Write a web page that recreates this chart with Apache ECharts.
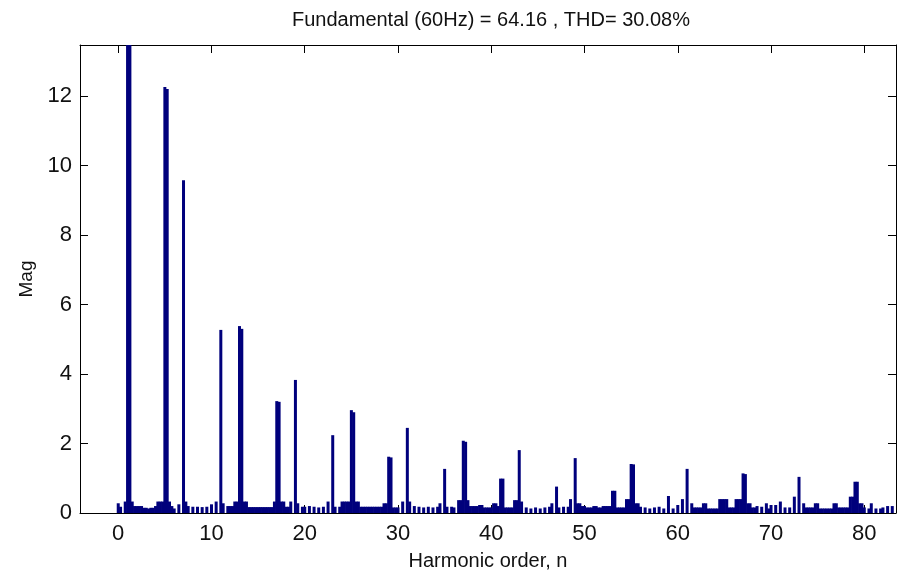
<!DOCTYPE html>
<html>
<head>
<meta charset="utf-8">
<title>FFT analysis</title>
<script src="https://cdn.jsdelivr.net/npm/echarts@6/dist/echarts.min.js"></script>
<style>
  html, body { margin: 0; padding: 0; background: #fff; }
  #chart { width: 897px; height: 579px; }
</style>
</head>
<body>
<div id="chart"></div>
<script>
  // FFT bins every 0.25 harmonic; one row = [n, n+.25, n+.5, n+.75]
  var binStep = 0.25;
  var mag = [
    0.28, 0.18, 0, 0.33,          // 0
    64.16, 20.0, 0.33, 0.20,      // 1
    0.20, 0.20, 0.20, 0.15,
    0.15, 0.13, 0.15, 0.15,
    0.20, 0.33, 0.33, 0.33,
    12.26, 12.2, 0.33, 0.20,      // 5
    0.13, 0, 0.25, 0,
    9.58, 0.33, 0.20, 0,          // 7
    0.18, 0, 0.18, 0,
    0.17, 0, 0.18, 0,
    0.25, 0, 0.33, 0,             // 10
    5.27, 0.28, 0, 0.20,          // 11
    0.20, 0.20, 0.33, 0.33,
    5.38, 5.30, 0.33, 0.33,       // 13
    0.17, 0.17, 0.17, 0.17,
    0.17, 0.17, 0.17, 0.17,       // 15
    0.17, 0.17, 0.17, 0.33,
    3.22, 3.20, 0.33, 0.33,       // 17
    0.18, 0.18, 0.33, 0,
    3.83, 0.28, 0, 0.18,          // 19
    0.18, 0, 0.20, 0,             // 20
    0.18, 0, 0.16, 0,
    0.18, 0, 0.33, 0,
    2.24, 0.18, 0, 0.18,          // 23
    0.33, 0.33, 0.33, 0.33,
    2.96, 2.90, 0.33, 0.33,       // 25
    0.18, 0.18, 0.18, 0.18,
    0.18, 0.18, 0.18, 0.18,
    0.18, 0.18, 0.28, 0.28,
    1.62, 1.60, 0.16, 0.16,       // 29
    0.16, 0, 0.33, 0,             // 30
    2.45, 0.33, 0, 0.20,          // 31
    0, 0.18, 0, 0.16,
    0, 0.18, 0, 0.16,
    0, 0.18, 0.28, 0,
    1.27, 0.18, 0, 0.18,          // 35
    0.16, 0, 0.37, 0.37,
    2.08, 2.05, 0.37, 0.20,       // 37
    0.20, 0.20, 0.20, 0.23,
    0.23, 0.16, 0.16, 0.16,
    0.16, 0.28, 0.28, 0.20,       // 40
    0.99, 0.99, 0.16, 0.16,       // 41
    0.16, 0.16, 0.37, 0.37,
    1.81, 0.33, 0, 0.16,          // 43
    0, 0.13, 0, 0.16,
    0, 0.13, 0, 0.16,             // 45
    0, 0.18, 0.28, 0,
    0.76, 0.16, 0, 0.18,          // 47
    0, 0.18, 0.40, 0,
    1.58, 0.28, 0.28, 0.20,       // 49
    0.20, 0.16, 0.16, 0.16,       // 50
    0.20, 0.20, 0.16, 0.16,
    0.20, 0.20, 0.20, 0.20,
    0.64, 0.64, 0.16, 0.16,       // 53
    0.16, 0.16, 0.40, 0.40,
    1.41, 1.40, 0.28, 0.28,       // 55
    0.18, 0, 0.16, 0,
    0.13, 0, 0.16, 0,
    0.18, 0, 0.13, 0,
    0.49, 0, 0.13, 0,             // 59
    0.23, 0, 0.40, 0,             // 60
    1.27, 0, 0.28, 0.16,          // 61
    0.16, 0.16, 0.16, 0.28,
    0.28, 0.13, 0.13, 0.13,
    0.13, 0.13, 0.40, 0.40,
    0.40, 0.40, 0.16, 0.16,       // 65
    0.16, 0.40, 0.40, 0.40,
    1.14, 1.12, 0.28, 0.28,       // 67
    0.16, 0.16, 0.20, 0,
    0.18, 0, 0.28, 0.13,
    0.23, 0, 0.23, 0,             // 70
    0.33, 0, 0.16, 0,             // 71
    0.16, 0, 0.47, 0,
    1.04, 0, 0.28, 0.16,          // 73
    0.16, 0.16, 0.16, 0.28,
    0.28, 0.13, 0.13, 0.13,       // 75
    0.13, 0.13, 0.13, 0.28,
    0.28, 0.16, 0.16, 0.16,       // 77
    0.16, 0.16, 0.47, 0.47,
    0.90, 0.90, 0.28, 0.28,       // 79
    0.16, 0, 0.13, 0.28,          // 80
    0, 0.13, 0, 0.13,
    0.16, 0, 0.20, 0,
    0.20, 0                        // 83
  ];

  var fundamental = 64.16;
  var thd = 30.08;
  var xRange = [-4.1, 83.4];
  var yRange = [0, 13.47];

  var points = mag.map(function (v, i) { return [i * binStep, v]; });

  var fontFam = '"Liberation Sans", Arial, sans-serif';
  var inTick = { show: true, inside: true, length: 8, lineStyle: { color: '#000', width: 1 } };
  var frameLine = { show: true, onZero: false, lineStyle: { color: '#000', width: 1 } };

  var chart = echarts.init(document.getElementById('chart'), null, { renderer: 'canvas' });
  chart.setOption({
    animation: false,
    backgroundColor: '#fff',
    title: {
      text: 'Fundamental (60Hz) = ' + fundamental + ' , THD= ' + thd.toFixed(2) + '%',
      left: 486,
      textAlign: 'center',
      top: 5,
      textStyle: { fontFamily: fontFam, fontSize: 20, fontWeight: 'normal', color: '#111' }
    },
    grid: { left: 80, right: 1, top: 45, bottom: 66, containLabel: false },
    xAxis: [{
      type: 'value',
      min: xRange[0],
      max: xRange[1],
      splitNumber: 9,
      position: 'bottom',
      name: 'Harmonic order, n',
      nameLocation: 'middle',
      nameGap: 38,
      nameTextStyle: { fontFamily: fontFam, fontSize: 20, color: '#111' },
      axisLine: frameLine,
      axisTick: inTick,
      splitLine: { show: false },
      axisLabel: {
        showMinLabel: false, showMaxLabel: false,
        margin: 10, fontFamily: fontFam, fontSize: 22, color: '#111'
      }
    }, {
      type: 'value',
      min: xRange[0],
      max: xRange[1],
      splitNumber: 9,
      position: 'top',
      axisLine: frameLine,
      axisTick: inTick,
      splitLine: { show: false },
      axisLabel: { show: false }
    }],
    yAxis: [{
      type: 'value',
      min: yRange[0],
      max: yRange[1],
      interval: 2,
      position: 'left',
      name: 'Mag',
      nameLocation: 'middle',
      nameGap: 44,
      nameTextStyle: { fontFamily: fontFam, fontSize: 19, color: '#111' },
      axisLine: frameLine,
      axisTick: inTick,
      splitLine: { show: false },
      axisLabel: {
        showMaxLabel: false,
        margin: 8, fontFamily: fontFam, fontSize: 22, color: '#111'
      }
    }, {
      type: 'value',
      min: yRange[0],
      max: yRange[1],
      interval: 2,
      position: 'right',
      axisLine: frameLine,
      axisTick: inTick,
      splitLine: { show: false },
      axisLabel: { show: false }
    }],
    series: [{
      type: 'bar',
      xAxisIndex: 0,
      yAxisIndex: 0,
      data: points,
      barWidth: 3,
      clip: true,
      itemStyle: { color: '#00007c' }
    }]
  });
</script>
</body>
</html>
